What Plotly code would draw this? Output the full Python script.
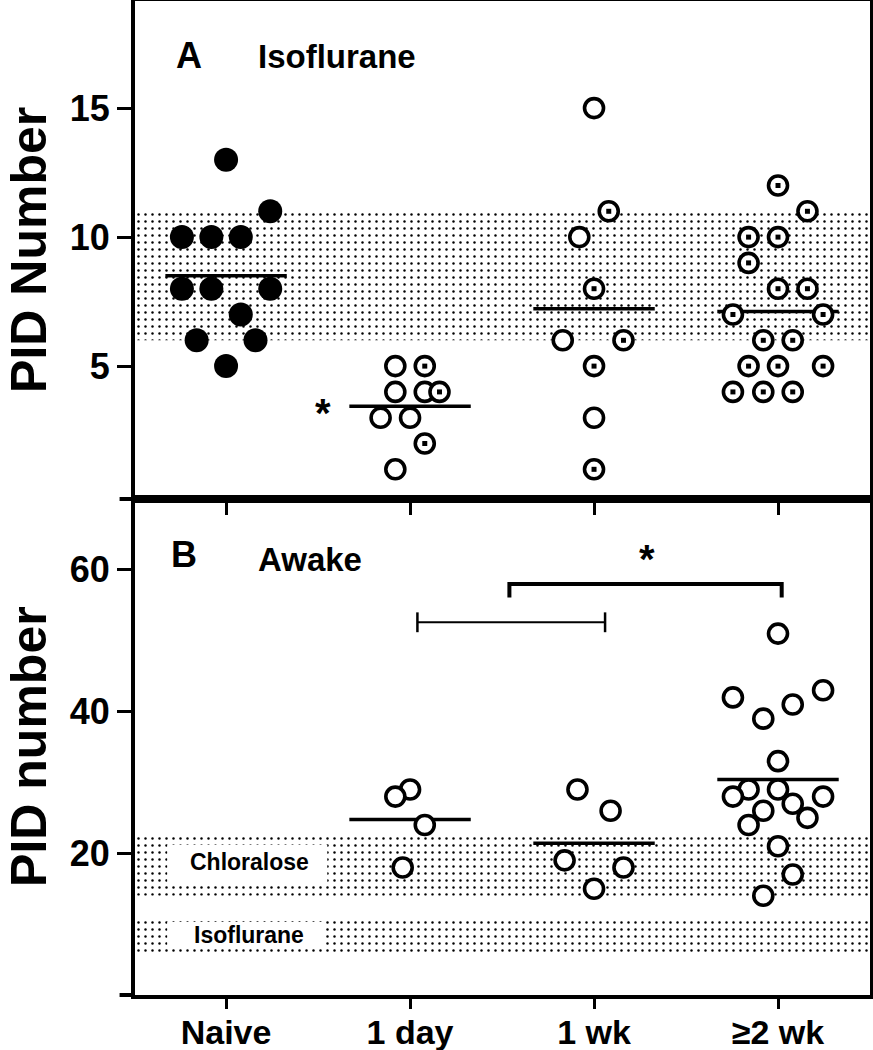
import numpy as np
import plotly.graph_objects as go

categories = ["Naive", "1 day", "1 wk", "≥2 wk"]

# ---- Panel A: Isoflurane (PID number) ----
iso_naive = [13, 11, 10, 10, 10, 8, 8, 8, 7, 6, 6, 5]
iso_naive_dx = [0, 0.24, -0.24, -0.08, 0.08, -0.24, -0.08, 0.24, 0.08, -0.16, 0.16, 0]

iso_1day = [5, 5, 4, 4, 4, 3, 3, 2, 1]
iso_1day_dx = [-0.08, 0.08, -0.08, 0.08, 0.16, -0.16, 0, 0.08, -0.08]
iso_1day_dot = [0, 1, 0, 0, 1, 0, 0, 1, 0]

iso_1wk = [15, 11, 10, 8, 6, 6, 5, 3, 1]
iso_1wk_dx = [0, 0.08, -0.08, 0, -0.17, 0.16, 0, 0, 0]
iso_1wk_dot = [0, 1, 0, 1, 0, 1, 1, 0, 1]

iso_2wk = [12, 11, 10, 10, 9, 8, 8, 7, 7, 6, 6, 5, 5, 5, 4, 4, 4]
iso_2wk_dx = [0, 0.16, -0.16, 0, -0.16, 0, 0.16, -0.245, 0.245, -0.08, 0.08,
              -0.16, 0, 0.245, -0.245, -0.08, 0.08]
iso_2wk_dot = [1] * len(iso_2wk)

# ---- Panel B: Awake (PID number) ----
awk_1day = [29, 28, 24, 18]
awk_1day_dx = [0, -0.08, 0.08, -0.04]

awk_1wk = [29, 26, 19, 18, 15]
awk_1wk_dx = [-0.09, 0.09, -0.16, 0.16, 0]

awk_2wk = [51, 43, 42, 41, 39, 33, 29, 29, 28, 28, 27, 26, 25, 24, 21, 17, 14]
awk_2wk_dx = [0, 0.245, -0.245, 0.08, -0.08, 0, -0.16, 0, -0.245, 0.245, 0.08,
              -0.08, 0.16, -0.16, 0, 0.08, -0.08]

# reference ranges (shaded bands)
iso_band = [6, 11]
chloralose_band = [14, 22.5]

FONT = "Liberation Sans, Arial, Helvetica, sans-serif"
BLACK = "black"

fig = go.Figure()


def band(lo, hi, xa, ya):
    fig.add_trace(go.Scatter(
        x=[-1, 4.5, 4.5, -1, -1], y=[lo, lo, hi, hi, lo], xaxis=xa, yaxis=ya,
        mode="lines", line=dict(width=0, color="rgba(0,0,0,0)"), fill="toself",
        fillcolor="white",
        fillpattern=dict(shape=".", fgcolor=BLACK, bgcolor="white", size=7, solidity=0.1),
        hoverinfo="skip", showlegend=False))


band(iso_band[0], iso_band[1], "x2", "y2")
band(chloralose_band[0], chloralose_band[1], "x", "y")
band(iso_band[0], iso_band[1], "x", "y")


def mean_line(i, vals, xa, ya):
    m = float(np.mean(vals))
    fig.add_trace(go.Scatter(x=[i - 0.33, i + 0.33], y=[m, m], xaxis=xa, yaxis=ya,
                             mode="lines", line=dict(color=BLACK, width=3.5),
                             hoverinfo="skip", showlegend=False))


def points(i, vals, dx, xa, ya, filled=False, dots=None):
    xs = [i + d for d in dx]
    fig.add_trace(go.Scatter(
        x=xs, y=vals, xaxis=xa, yaxis=ya, mode="markers",
        marker=dict(symbol="circle", size=24 if filled else 19,
                    color=BLACK if filled else "white",
                    line=dict(color=BLACK, width=0 if filled else 3.6)),
        cliponaxis=False, showlegend=False))
    if dots is not None:
        dxs = [x for x, d in zip(xs, dots) if d]
        dys = [v for v, d in zip(vals, dots) if d]
        fig.add_trace(go.Scatter(
            x=dxs, y=dys, xaxis=xa, yaxis=ya, mode="markers",
            marker=dict(symbol="square", size=5, color=BLACK, line=dict(width=0)),
            cliponaxis=False, showlegend=False))


# Panel A
top_groups = [(iso_naive, iso_naive_dx, True, None),
              (iso_1day, iso_1day_dx, False, iso_1day_dot),
              (iso_1wk, iso_1wk_dx, False, iso_1wk_dot),
              (iso_2wk, iso_2wk_dx, False, iso_2wk_dot)]
for i, (v, dx, f, dots) in enumerate(top_groups):
    mean_line(i, v, "x2", "y2")
for i, (v, dx, f, dots) in enumerate(top_groups):
    points(i, v, dx, "x2", "y2", filled=f, dots=dots)

# Panel B
bot_groups = [(1, awk_1day, awk_1day_dx), (2, awk_1wk, awk_1wk_dx), (3, awk_2wk, awk_2wk_dx)]
for i, v, dx in bot_groups:
    mean_line(i, v, "x", "y")
for i, v, dx in bot_groups:
    points(i, v, dx, "x", "y")

# significance brackets (panel B)
thin_bracket = dict(x0=1.04, x1=2.06, y=52.6, tick=1.4)
thick_bracket = dict(x0=1.54, x1=3.02, y=58.0, drop=1.9)
shapes = []
tb = thin_bracket
shapes += [
    dict(type="line", xref="x", yref="y", x0=tb["x0"], x1=tb["x1"], y0=tb["y"], y1=tb["y"],
         line=dict(color=BLACK, width=2)),
    dict(type="line", xref="x", yref="y", x0=tb["x0"], x1=tb["x0"], y0=tb["y"] - tb["tick"],
         y1=tb["y"] + tb["tick"], line=dict(color=BLACK, width=2.5)),
    dict(type="line", xref="x", yref="y", x0=tb["x1"], x1=tb["x1"], y0=tb["y"] - tb["tick"],
         y1=tb["y"] + tb["tick"], line=dict(color=BLACK, width=2.5)),
]
kb = thick_bracket
shapes.append(dict(type="path", xref="x", yref="y",
                   path=f"M {kb['x0']},{kb['y'] - kb['drop']} L {kb['x0']},{kb['y']} "
                        f"L {kb['x1']},{kb['y']} L {kb['x1']},{kb['y'] - kb['drop']}",
                   line=dict(color=BLACK, width=4)))

# white boxes behind band labels
shapes += [
    dict(type="rect", xref="x", yref="y", x0=-0.32, x1=0.55, y0=15.8, y1=21.2,
         fillcolor="white", line=dict(width=0), layer="above"),
    dict(type="rect", xref="x", yref="y", x0=-0.32, x1=0.54, y0=6.6, y1=10.3,
         fillcolor="white", line=dict(width=0), layer="above"),
]
# extend the two horizontal axis lines slightly to the left of the y axis
shapes += [
    dict(type="line", xref="paper", yref="paper", x0=-0.021, x1=0, y0=0.499, y1=0.499,
         line=dict(color=BLACK, width=4)),
    dict(type="line", xref="paper", yref="paper", x0=-0.021, x1=0, y0=0.0, y1=0.0,
         line=dict(color=BLACK, width=4)),
]


def ann(text, x, y, xref, yref, size, xanchor="center", angle=0):
    return dict(text=text, x=x, y=y, xref=xref, yref=yref, showarrow=False,
                xanchor=xanchor, yanchor="middle", textangle=angle,
                font=dict(size=size, family=FONT, color=BLACK))


annotations = [
    ann("<b>A</b>", -0.2, 17.05, "x2", "y2", 36),
    ann("<b>Isoflurane</b>", 0.165, 17.0, "x2", "y2", 33, xanchor="left"),
    ann("<b>B</b>", -0.23, 62.1, "x", "y", 36),
    ann("<b>Awake</b>", 0.165, 61.4, "x", "y", 33, xanchor="left"),
    ann("<b>*</b>", 0.527, 3.2, "x2", "y2", 40),
    ann("<b>*</b>", 2.29, 61.6, "x", "y", 40),
    ann("<b>Chloralose</b>", 0.125, 18.7, "x", "y", 23),
    ann("<b>Isoflurane</b>", 0.125, 8.5, "x", "y", 23),
    ann("<b>PID Number</b>", -0.145, 0.75, "paper", "paper", 50, angle=-90),
    ann("<b>PID number</b>", -0.145, 0.25, "paper", "paper", 50, angle=-90),
]

axis_common = dict(showgrid=False, zeroline=False, showline=True, linecolor=BLACK,
                   linewidth=4, mirror=True, ticks="outside", tickwidth=3,
                   tickcolor=BLACK, automargin=False)
ytickfont = dict(size=36, family=FONT, color=BLACK, weight="bold")
xtickfont = dict(size=34, family=FONT, color=BLACK, weight="bold")

fig.update_layout(
    template="none",
    width=873, height=1050,
    margin=dict(l=135, r=3, t=1, b=55),
    paper_bgcolor="white", plot_bgcolor="white",
    showlegend=False,
    font=dict(family=FONT, color=BLACK),
    xaxis=dict(**axis_common, ticklen=10, ticklabelstandoff=-6, domain=[0, 1], anchor="y",
               range=[-0.495, 3.5], tickvals=[0, 1, 2, 3], ticktext=categories,
               tickfont=xtickfont),
    yaxis=dict(**axis_common, ticklen=14, domain=[0, 0.499], anchor="x", range=[0, 70],
               tickvals=[20, 40, 60], tickfont=ytickfont),
    xaxis2=dict(**axis_common, ticklen=12, domain=[0, 1], anchor="y2", range=[-0.495, 3.5],
                tickvals=[0, 1, 2, 3], showticklabels=False),
    yaxis2=dict(**axis_common, ticklen=14, domain=[0.499, 1], anchor="x2", range=[-0.15, 19.15],
                tickvals=[5, 10, 15], tickfont=ytickfont),
    shapes=shapes,
    annotations=annotations,
)

fig.write_html("out.html", config={"displayModeBar": False},
               post_script="document.body.style.margin='0';document.body.style.padding='0';")
